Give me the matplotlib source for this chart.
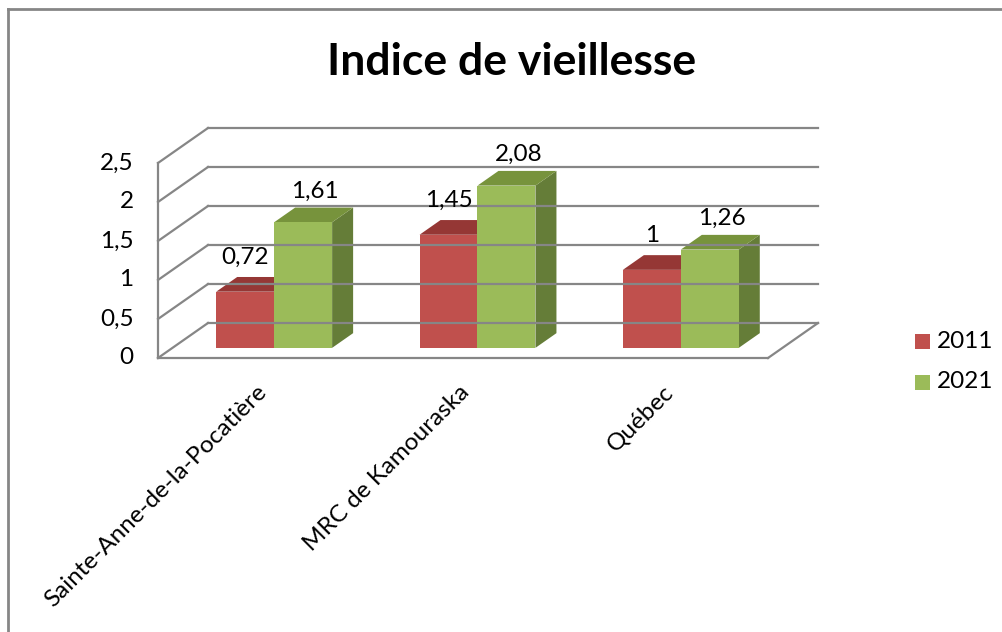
import matplotlib
matplotlib.use("Agg")
from matplotlib import pyplot as plt
from matplotlib.patches import Polygon, Rectangle
from matplotlib.lines import Line2D

plt.rcParams['font.family'] = ['Lato', 'DejaVu Sans']

# data
categories = ['Sainte-Anne-de-la-Pocatière', 'MRC de Kamouraska', 'Québec']
series_names = ['2011', '2021']
values_2011 = [0.72, 1.45, 1.00]
values_2021 = [1.61, 2.08, 1.26]
value_labels_2011 = ['0,72', '1,45', '1']
value_labels_2021 = ['1,61', '2,08', '1,26']
yticks = [0, 0.5, 1, 1.5, 2, 2.5]
ytick_labels = ['0', '0,5', '1', '1,5', '2', '2,5']

face_cols = ['#C0504D', '#9BBB59']
top_cols = ['#953735', '#77933C']
side_cols = ['#7F2F2D', '#657D38']
grid_col = '#868686'
FS = 17.5

W, H = 1002, 632
fig = plt.figure(figsize=(W / 100, H / 100), dpi=100)

# front plane of the 3d box: x 158..768 px, y 358 (0) .. 163 (2.5) px
ax = fig.add_axes([158 / W, 1 - 358 / H, 610 / W, 195 / H])
ax.set_xlim(0, 3)
ax.set_ylim(0, 2.5)
ax.axis('off')

# depth offset of the box (back wall) in data units
DX = 50 / (610 / 3)
DY = 35 / 78.0
# bars sit between these depth fractions
D0, D1 = 0.29, 0.71
bw = 0.285


def line(xs, ys, **kw):
    ax.add_line(Line2D(xs, ys, color=grid_col, lw=1.6, clip_on=False, **kw))


# back wall gridlines + left wall diagonals
for v in yticks:
    line([DX, 3 + DX], [v + DY, v + DY])
    line([0, DX], [v, v + DY])
# front-left vertical edge, floor front and right edge
line([0, 0], [0, 2.5])
line([0, 3], [0, 0])
line([3, 3 + DX], [0, DY])

for v, lab in zip(yticks, ytick_labels):
    ax.text(-0.12, v, lab, ha='right', va='center', fontsize=FS)


def bar3d(x0, v, k):
    fx = x0 + D0 * DX
    fy = D0 * DY
    ddx = (D1 - D0) * DX
    ddy = (D1 - D0) * DY
    side = Polygon([(fx + bw, fy), (fx + bw + ddx, fy + ddy),
                    (fx + bw + ddx, fy + v + ddy), (fx + bw, fy + v)],
                   closed=True, fc=side_cols[k], ec='none', clip_on=False)
    top = Polygon([(fx, fy + v), (fx + ddx, fy + v + ddy),
                   (fx + bw + ddx, fy + v + ddy), (fx + bw, fy + v)],
                  closed=True, fc=top_cols[k], ec='none', clip_on=False)
    front = Rectangle((fx, fy), bw, v, fc=face_cols[k], ec='none', clip_on=False)
    ax.add_patch(side)
    ax.add_patch(top)
    ax.add_patch(front)
    return fx + bw / 2, fy + v


lab_dy = [0.44, 0.40]
for i in range(len(categories)):
    c = i + 0.5
    for k, (vals, labs) in enumerate([(values_2011, value_labels_2011),
                                      (values_2021, value_labels_2021)]):
        x0 = c - bw if k == 0 else c
        xc, yt = bar3d(x0, vals[i], k)
        ax.text(xc + 0.06 * k, yt + lab_dy[k], labs[i], ha='center', va='center',
                fontsize=FS)

# category labels, rotated 45 deg, anchored at their upper right end
for i, name in enumerate(categories):
    ax.text(i + 0.5 - 0.02, -0.30, name, rotation=45, ha='right', va='top',
            rotation_mode='anchor', fontsize=FS)

# legend
for k, name in enumerate(series_names):
    y = 342 + 40 * k
    fig.patches.append(Rectangle((915 / W, 1 - (y + 7.5) / H), 15 / W, 15 / H,
                                 transform=fig.transFigure, fc=face_cols[k],
                                 ec='none'))
    fig.text(937 / W, 1 - y / H, name, ha='left', va='center', fontsize=FS)

fig.text(512 / W, 1 - 62 / H, 'Indice de vieillesse', ha='center', va='center',
         fontsize=32, fontweight='bold')

# chart area border (top and left only visible)
fig.add_artist(Line2D([8 / W, 8 / W], [0, 1 - 9 / H], transform=fig.transFigure,
                      color=grid_col, lw=2))
fig.add_artist(Line2D([8 / W, 1], [1 - 9 / H, 1 - 9 / H], transform=fig.transFigure,
                      color=grid_col, lw=2))

fig.savefig('out.png', dpi=100)
